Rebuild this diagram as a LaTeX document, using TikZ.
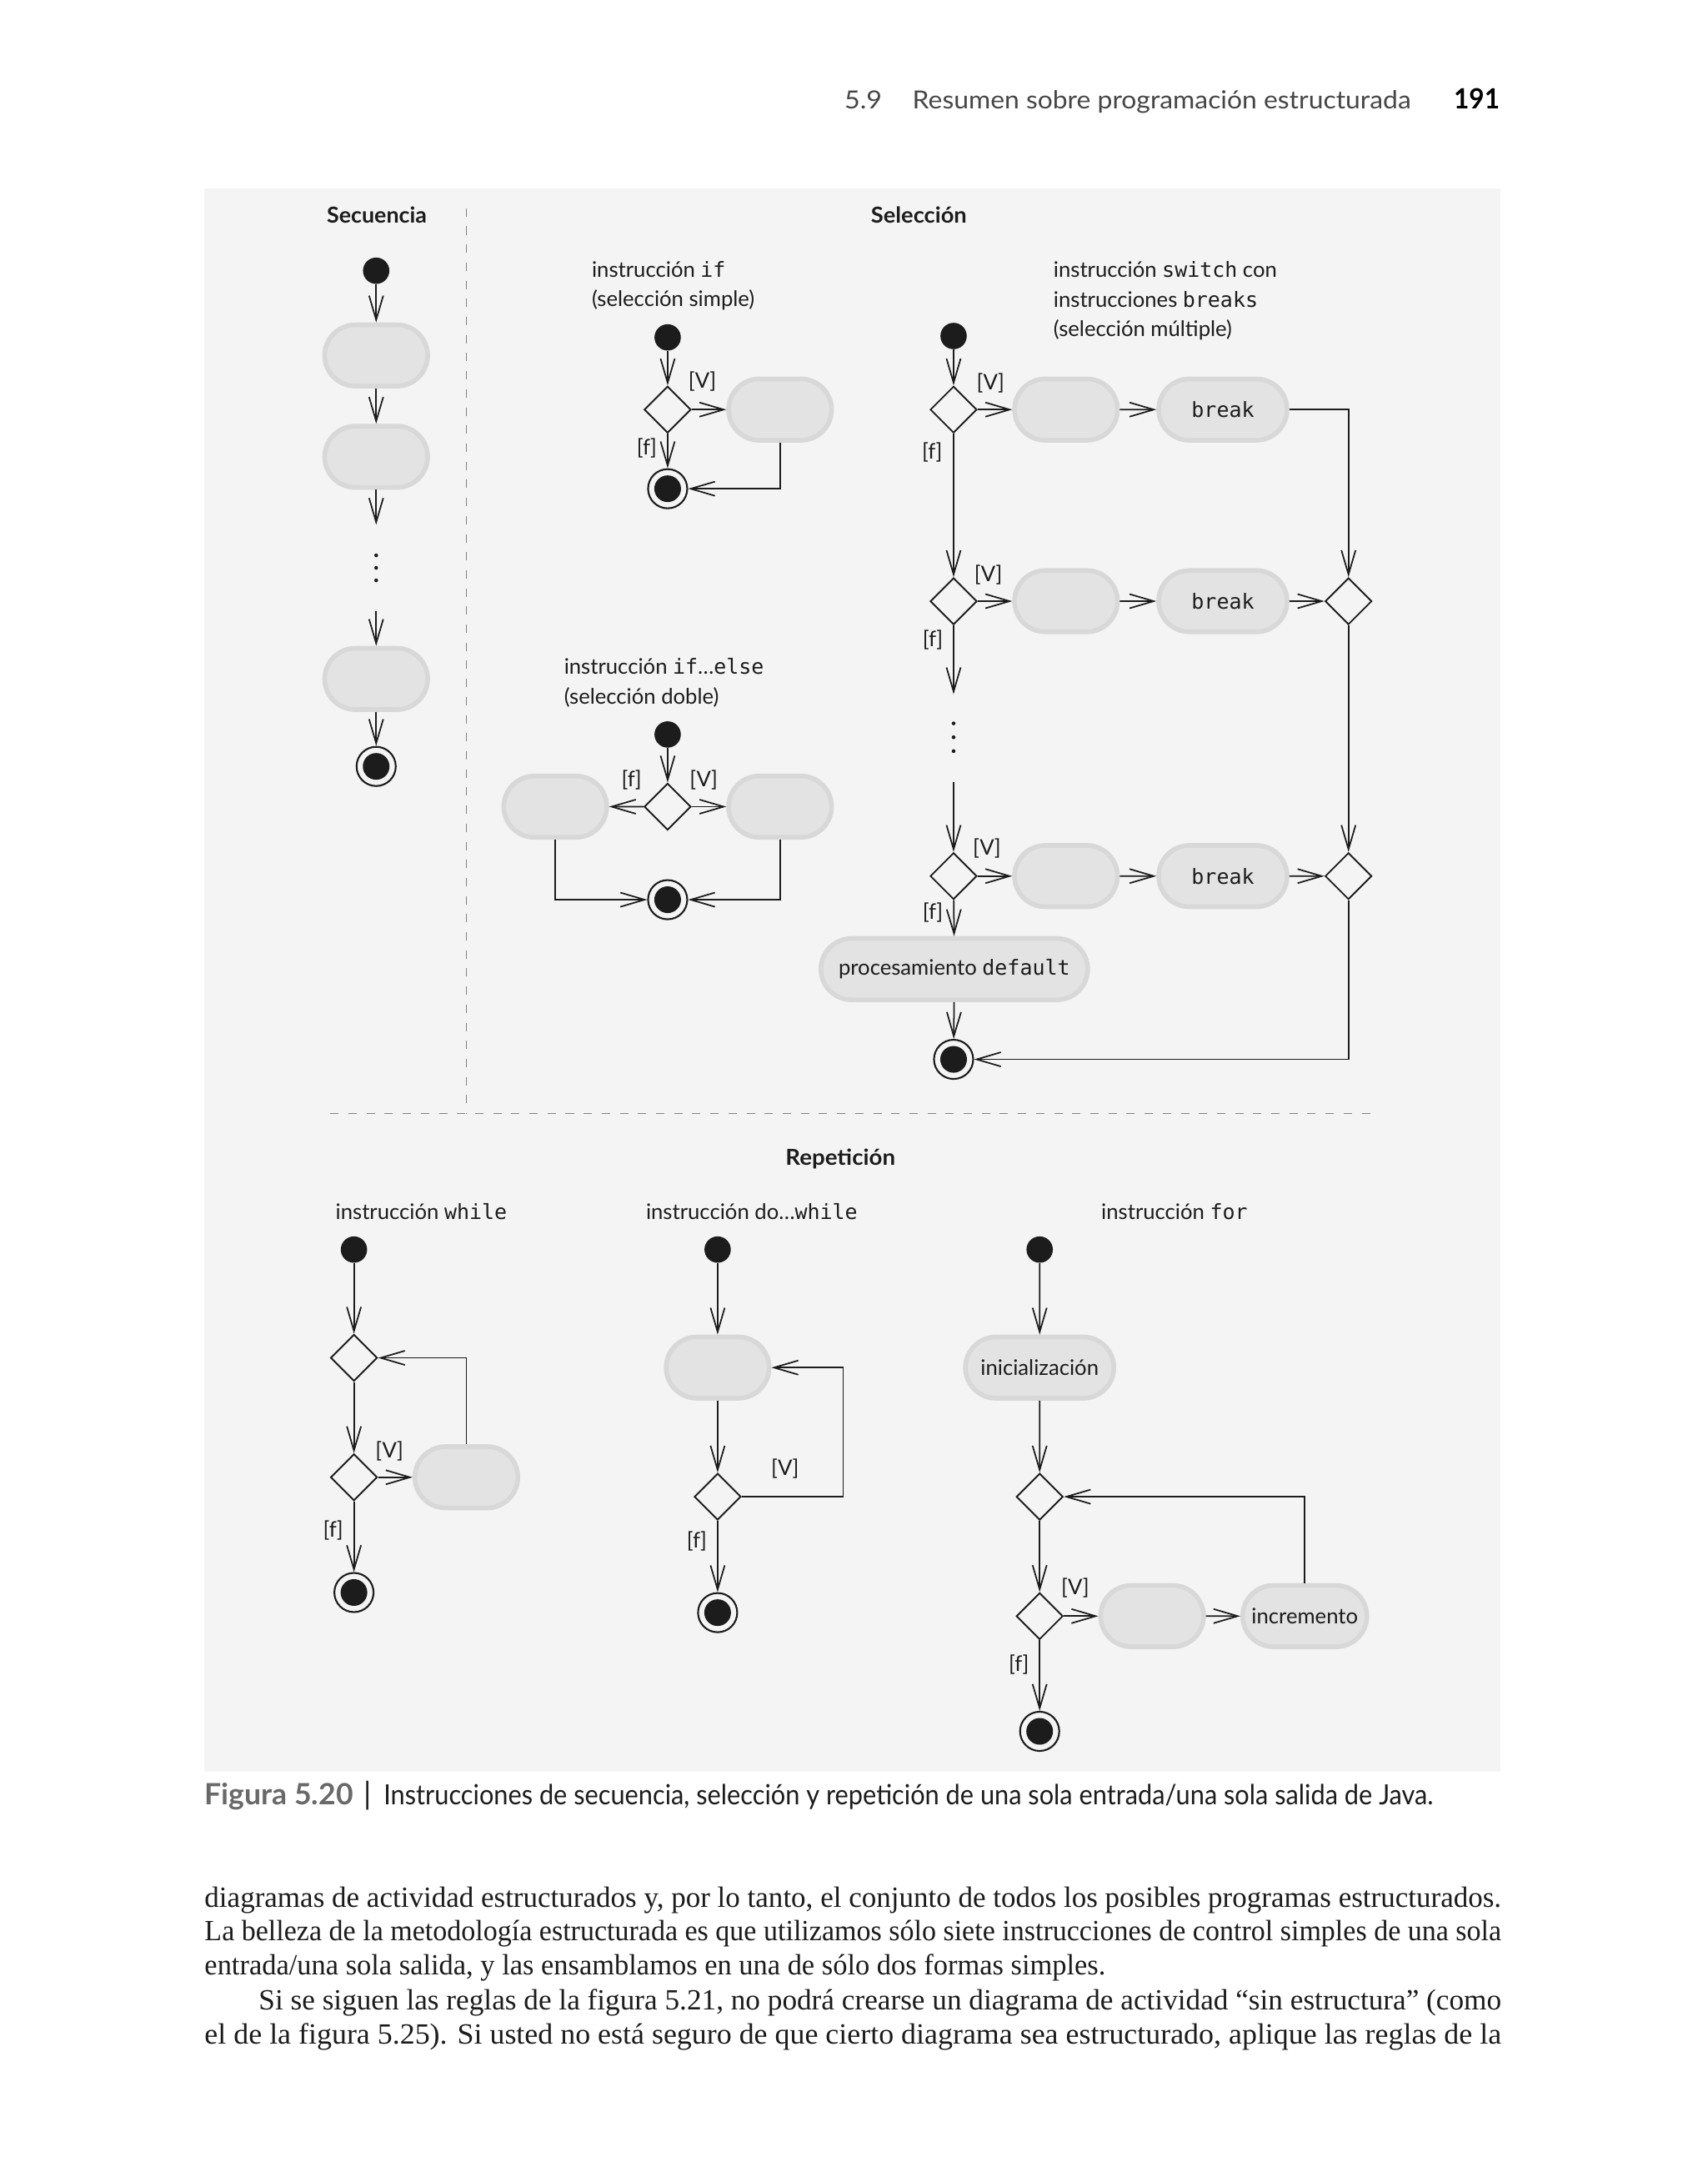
\documentclass[tikz,border=0pt]{standalone}
\usepackage{fontspec}
\usepackage{graphicx}
\usetikzlibrary{arrows.meta,shapes.geometric,shapes.misc}
\setmainfont{Liberation Serif}
\newfontfamily\labfont{Lato}
\newfontfamily\monofont{DejaVu Sans Mono}
\definecolor{figbg}{RGB}{245,244,244}
\definecolor{actfill}{RGB}{227,227,227}
\definecolor{actedge}{RGB}{216,216,216}
\definecolor{ink}{RGB}{28,28,28}
\definecolor{sepgray}{RGB}{130,130,130}
\definecolor{capgray}{RGB}{105,105,105}
\definecolor{hdrgray}{RGB}{70,70,70}
\newlength\fitlen
\def\lastratio{1}
\newcommand\fitw[2]{\settowidth{\fitlen}{#2}\pgfmathsetmacro\fitratio{#1*0.47374pt/\fitlen}\xdef\lastratio{\fitratio}\scalebox{\fitratio}[1]{#2}}
\newcommand\mtx[1]{{\monofont\fontsize{7.1}{9}\selectfont #1}}
\begin{document}
\begin{tikzpicture}[x=0.01665cm, y=-0.01665cm,
  act/.style={rounded rectangle, fill=actfill, draw=actedge, line width=1.6pt,
    minimum width=#1, minimum height=0.735cm, inner sep=0pt,
    font=\labfont\fontsize{7.3}{9}\selectfont, text=ink},
  act/.default=1.235cm,
  dec/.style={diamond, draw=ink, fill=figbg, line width=0.55pt,
    minimum width=0.56cm, minimum height=0.56cm, inner sep=0pt},
  ini/.style={circle, fill=ink, minimum size=0.316cm, inner sep=0pt},
  fin/.style={circle, draw=ink, fill=figbg, line width=0.6pt, minimum size=0.47cm,
    inner sep=0pt, path picture={\fill[ink] (path picture bounding box.center) circle (0.16cm);}},
  arr/.style={draw=ink, line width=0.5pt, -{Straight Barb[length=2.9mm,width=1.7mm]}},
  guard/.style={font=\labfont\fontsize{7.3}{9}\selectfont, text=ink, inner sep=0pt},
  lbl/.style={font=\labfont\fontsize{7.3}{9}\selectfont, text=ink, inner sep=0pt, anchor=base west},
  ttl/.style={font=\labfont\bfseries\fontsize{7.5}{9}\selectfont, text=ink, inner sep=0pt, anchor=base},
  hdr/.style={font=\labfont\fontsize{8.5}{10}\selectfont, text=hdrgray, inner sep=0pt, anchor=base west},
  body/.style={font=\fontsize{10}{12}\selectfont, text=ink, inner sep=0pt, anchor=base west},
  sep/.style={draw=sepgray, line width=0.45pt, dash pattern=on 1mm off 1.17mm},
  dotmark/.style={circle, fill=ink, minimum size=1.3pt, inner sep=0pt}
]
\useasboundingbox (0,0) rectangle (1230,1568);
\fill[white] (0,0) rectangle (1230,1568);
\fill[figbg] (147,136) rectangle (1081,1276);

% header
\node[hdr] (h1) at (608,78.5) {\fitw{27}{5.9}};
\node[hdr] (h2) at (657,78.5) {\fitw{359}{Resumen sobre programación estructurada}};
\node[hdr, font=\labfont\bfseries\fontsize{9.5}{11}\selectfont, text=black] (h3) at (1047,78.5) {\fitw{33}{191}};

% separators
\coordinate (vs1) at (336,150);
\coordinate (vs2) at (336,802);
\coordinate (hs1) at (238,802);
\coordinate (hs2) at (988,802);
\draw[sep] (vs1) -- (vs2);
\draw[sep] (hs1) -- (hs2);

% titles
\node[ttl] (tSec) at (271.5,160.5) {\fitw{72}{Secuencia}};
\node[ttl] (tSel) at (662,160.5) {\fitw{69}{Selección}};
\node[ttl] (tRep) at (605.5,839.5) {\fitw{79}{Repetición}};

% ---------- Secuencia
\node[ini] (s0) at (271,195) {};
\node[act] (s1) at (271,256) {};
\node[act] (s2) at (271,329) {};
\coordinate (sc1) at (271,378);
\node[dotmark] (sd1) at (271,400) {};
\node[dotmark] (sd2) at (271,409) {};
\node[dotmark] (sd3) at (271,418) {};
\coordinate (sc2) at (271,440);
\node[act] (s3) at (271,489) {};
\node[fin] (sF) at (271,552) {};
\draw[arr] (s0) -- (s1);
\draw[arr] (s1) -- (s2);
\draw[arr] (s2) -- (sc1);
\draw[arr] (sc2) -- (s3);
\draw[arr] (s3) -- (sF);

% ---------- if
\node[lbl] (iT1) at (426,199.5) {instrucción \mtx{if}};
\node[lbl] (iT2) at (426,220.5) {(selección simple)};
\node[ini] (i0) at (481,243) {};
\node[dec] (iD) at (481,295) {};
\node[act] (iA) at (562,295) {};
\node[fin] (iF) at (481,352) {};
\node[guard] (iV) at (506,275) {[V]};
\node[guard] (iFg) at (466,323) {[f]};
\draw[arr] (i0) -- (iD);
\draw[arr] (iD) -- (iA);
\draw[arr] (iD) -- (iF);
\draw[arr] (iA.south) |- (iF.east);

% ---------- if...else
\node[lbl] (eT1) at (406,485.5) {instrucción \mtx{if}…\mtx{else}};
\node[lbl] (eT2) at (406,507) {(selección doble)};
\node[ini] (e0) at (481,529) {};
\node[dec] (eD) at (481,581) {};
\node[act] (eL) at (400,581) {};
\node[act] (eR) at (562,581) {};
\node[fin] (eF) at (481,648) {};
\node[guard] (eFg) at (455,562) {[f]};
\node[guard] (eV) at (507,562) {[V]};
\draw[arr] (e0) -- (eD);
\draw[arr] (eD) -- (eL);
\draw[arr] (eD) -- (eR);
\draw[arr] (eL.south) |- (eF.west);
\draw[arr] (eR.south) |- (eF.east);

% ---------- switch
\node[lbl] (wT1) at (758.6,199.5) {instrucción \mtx{switch} con};
\node[lbl] (wT2) at (758.6,221) {instrucciones \mtx{breaks}};
\node[lbl] (wT3) at (758.6,242.5) {(selección múltiple)};
\node[ini] (sw0) at (687,242) {};
\node[dec] (d1) at (687,295) {};
\node[act] (c1) at (768,295) {};
\node[act=1.54cm] (b1) at (881,295) {\mtx{break}};
\node[dec] (d2) at (687,433) {};
\node[act] (c2) at (768,433) {};
\node[act=1.54cm] (b2) at (881,433) {\mtx{break}};
\node[dec] (j1) at (971.5,433) {};
\coordinate (swc1) at (687,500);
\node[dotmark] (wd1) at (687,521) {};
\node[dotmark] (wd2) at (687,531) {};
\node[dotmark] (wd3) at (687,541) {};
\coordinate (swc2) at (687,563);
\node[dec] (d3) at (687,631) {};
\node[act] (c3) at (768,631) {};
\node[act=1.54cm] (b3) at (881,631) {\mtx{break}};
\node[dec] (j2) at (971.5,631) {};
\node[act=3.2cm] (def) at (687.5,698) {procesamiento \mtx{default}};
\node[fin] (swF) at (687,763) {};
\node[guard] (g1v) at (713.6,276) {[V]};
\node[guard] (g1f) at (671.6,325.5) {[f]};
\node[guard] (g2v) at (712,414) {[V]};
\node[guard] (g2f) at (672,461) {[f]};
\node[guard] (g3v) at (711,611) {[V]};
\node[guard] (g3f) at (672,657) {[f]};
\draw[arr] (sw0) -- (d1);
\draw[arr] (d1) -- (c1);
\draw[arr] (c1) -- (b1);
\draw[arr] (b1.east) -| (j1.north);
\draw[arr] (d1) -- (d2);
\draw[arr] (d2) -- (c2);
\draw[arr] (c2) -- (b2);
\draw[arr] (b2) -- (j1);
\draw[arr] (d2) -- (swc1);
\draw[arr] (swc2) -- (d3);
\draw[arr] (d3) -- (c3);
\draw[arr] (c3) -- (b3);
\draw[arr] (b3) -- (j2);
\draw[arr] (j1) -- (j2);
\draw[arr] (d3) -- (def);
\draw[arr] (def) -- (swF);
\draw[arr] (j2.south) |- (swF.east);

% ---------- while
\node[lbl] (whT) at (241.4,878) {instrucción \mtx{while}};
\node[ini] (w0) at (255,900) {};
\node[dec] (wA) at (255,978) {};
\node[dec] (wB) at (255,1064) {};
\node[act] (wAct) at (336,1064) {};
\node[fin] (wF) at (255,1147) {};
\node[guard] (wv) at (280.6,1045) {[V]};
\node[guard] (wf) at (240,1102) {[f]};
\draw[arr] (w0) -- (wA);
\draw[arr] (wA) -- (wB);
\draw[arr] (wB) -- (wAct);
\draw[arr] (wB) -- (wF);
\draw[arr] (wAct.north) |- (wA.east);

% ---------- do...while
\node[lbl] (dwT) at (465,878) {instrucción do…\mtx{while}};
\node[ini] (dw0) at (517,900) {};
\node[act] (dwAct) at (517,985) {};
\node[dec] (dwD) at (517,1078) {};
\coordinate (dwc) at (607.5,1078);
\node[fin] (dwF) at (517,1161.5) {};
\node[guard] (dwv) at (565.6,1058) {[V]};
\node[guard] (dwf) at (502,1110) {[f]};
\draw[arr] (dw0) -- (dwAct);
\draw[arr] (dwAct) -- (dwD);
\draw[arr] (dwD) -- (dwF);
\draw[arr] (dwD.east) -- (dwc) |- (dwAct.east);

% ---------- for
\node[lbl] (fT) at (793,878) {instrucción \mtx{for}};
\node[ini] (f0) at (749,900) {};
\node[act=1.78cm] (fInit) at (749,985) {inicialización};
\node[dec] (fA) at (749,1078) {};
\node[dec] (fB) at (749,1164) {};
\node[act] (fAct) at (830,1164) {};
\node[act=1.49cm] (fInc) at (940,1164) {incremento};
\node[fin] (fF) at (749,1247) {};
\node[guard] (fv) at (774.6,1143.6) {[V]};
\node[guard] (ff) at (734,1199) {[f]};
\draw[arr] (f0) -- (fInit);
\draw[arr] (fInit) -- (fA);
\draw[arr] (fA) -- (fB);
\draw[arr] (fB) -- (fAct);
\draw[arr] (fAct) -- (fInc);
\draw[arr] (fB) -- (fF);
\draw[arr] (fInc.north) |- (fA.east);

% ---------- caption
\node[hdr, font=\labfont\bfseries\fontsize{10}{12}\selectfont, text=capgray] (cap1) at (147,1299.7) {\fitw{107}{Figura 5.20}};
\node[hdr, font=\labfont\fontsize{10.5}{12}\selectfont, text=ink] (cap2) at (262,1299.7) {|};
\node[hdr, font=\labfont\fontsize{9.5}{12}\selectfont, text=ink] (cap3) at (276,1299.7) {\fitw{756}{Instrucciones de secuencia, selección y repetición de una sola entrada/una sola salida de Java.}};

% ---------- body text
\node[body] (p1) at (147,1373.5) {\fitw{934}{diagramas de actividad estructurados y, por lo tanto, el conjunto de todos los posibles programas estructurados.}};
\node[body] (p2) at (147,1398) {\fitw{934}{La belleza de la metodología estructurada es que utilizamos sólo siete instrucciones de control simples de una sola}};
\node[body] (p3) at (147,1422.5) {\fitw{649}{entrada/una sola salida, y las ensamblamos en una de sólo dos formas simples.}};
\node[body] (p4) at (186,1447.5) {\fitw{895}{Si se siguen las reglas de la figura 5.21, no podrá crearse un diagrama de actividad “sin estructura” (como}};
\node[body] (p5) at (147,1472) {\fitw{934}{el de la figura 5.25). Si usted no está seguro de que cierto diagrama sea estructurado, aplique las reglas de la}};
\end{tikzpicture}
\end{document}
